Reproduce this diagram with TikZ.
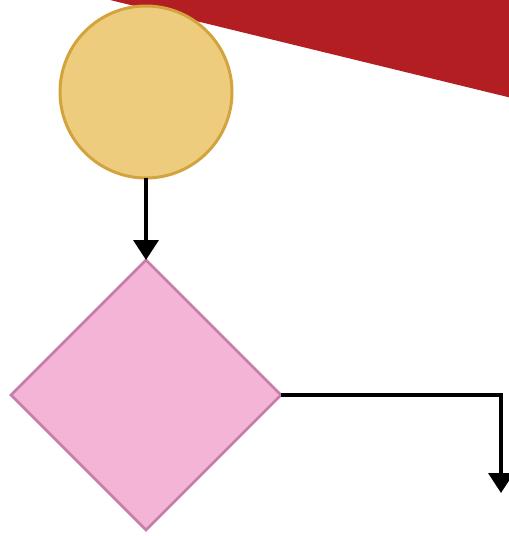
\documentclass[tikz,border=0pt]{standalone}
\usetikzlibrary{shapes.geometric,arrows.meta}
\definecolor{redfill}{HTML}{B31E23}
\definecolor{circfill}{HTML}{EECC7E}
\definecolor{circline}{HTML}{D3A43E}
\definecolor{diafill}{HTML}{F4B4D6}
\definecolor{dialine}{HTML}{C67DAA}
\tikzset{
  startnode/.style={circle, fill=circfill, draw=circline, line width=3pt, minimum size=172pt, inner sep=0pt, outer sep=0pt},
  decnode/.style={diamond, fill=diafill, draw=dialine, line width=2.5pt, minimum width=270pt, minimum height=270pt, aspect=1, inner sep=0pt, outer sep=0pt},
  conn/.style={line width=3.6pt, -{Triangle[length=20pt,width=25pt]}}
}
\begin{document}
\begin{tikzpicture}[x=1pt,y=-1pt]
\useasboundingbox (0,0) rectangle (509,536);
\fill[redfill] (110,0) -- (520,0) -- (520,100) -- cycle;
\node[startnode] (c) at (146,92) {};
\node[decnode] (d) at (146,395) {};
\coordinate (corner) at (501,395);
\coordinate (end) at (501,493);
\draw[conn] (c.south) -- (d.north);
\draw[conn] (d.east) -- (corner) -- (end);
\end{tikzpicture}
\end{document}
